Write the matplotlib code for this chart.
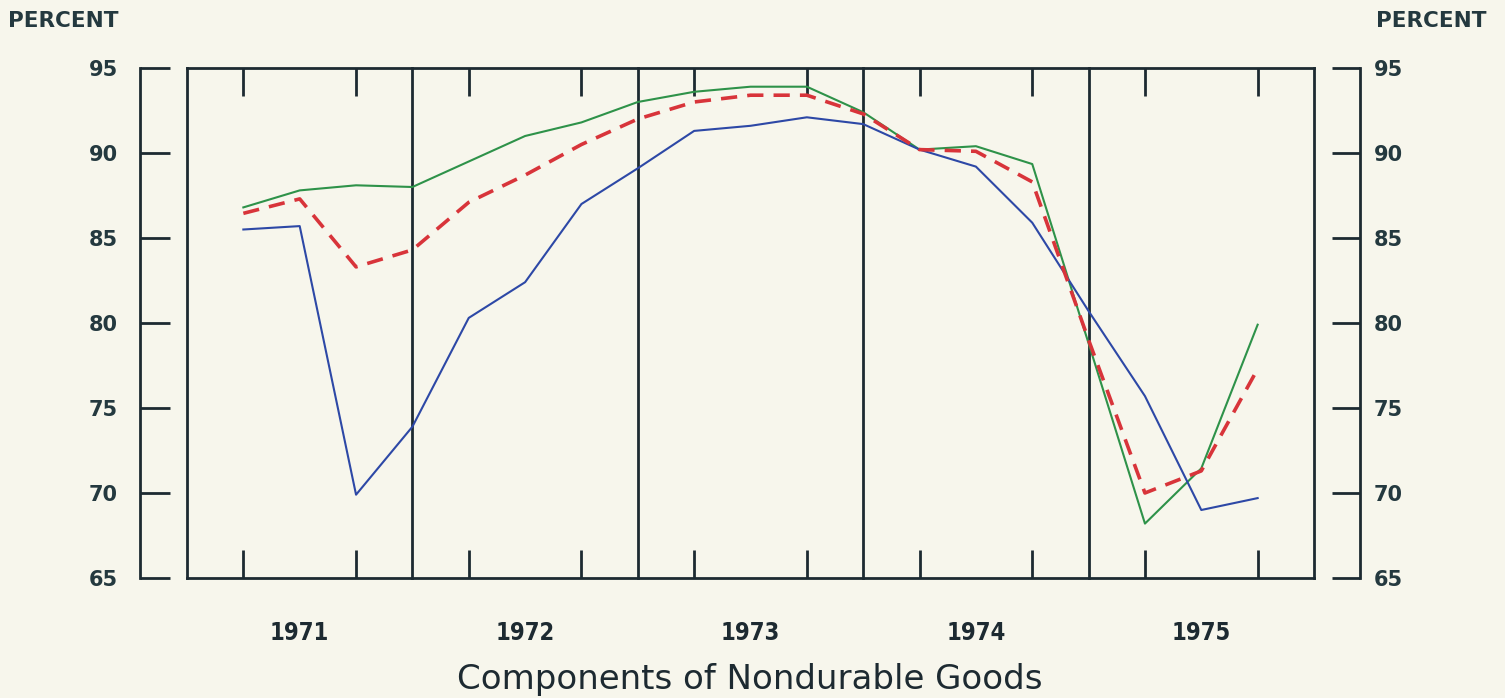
import numpy as np
import matplotlib.pyplot as plt

##########
### Data (quarterly, plotted on the quarter ticks)
quarters = list(range(1, 20))
blue_vals = [85.5, 85.7, 69.9, 73.9, 80.3, 82.4, 87.0, 89.1, 91.3, 91.6,
             92.1, 91.7, 90.2, 89.2, 85.9, 80.7, 75.7, 69.0, 69.7]
green_vals = [86.8, 87.8, 88.1, 88.0, 89.5, 91.0, 91.8, 93.0, 93.6, 93.9,
              93.9, 92.4, 90.2, 90.4, 89.35, 78.8, 68.2, 71.45, 79.9]
red_vals = [86.45, 87.3, 83.3, 84.3, 87.1, 88.7, 90.5, 92.0, 93.0, 93.4,
            93.4, 92.3, 90.2, 90.1, 88.3, 79.0, 70.0, 71.3, 77.3]
years = ['1971', '1972', '1973', '1974', '1975']
year_centers = [2, 6, 10, 14, 18]
year_bounds = [4, 8, 12, 16]
yticks = [65, 70, 75, 80, 85, 90, 95]
##########

bg = '#f7f6ec'
ink = '#1d2a31'
px = 0.72  # points per pixel at dpi 100

fig = plt.figure(figsize=(15.05, 6.98), dpi=100, facecolor=bg)
ax = fig.add_axes([187/1505, 120/698, 1127/1505, 510/698])
ax.set_facecolor(bg)
ax.set_xlim(0, 20)
ax.set_ylim(65, 95)

ax.plot(quarters, green_vals, color='#2e9249', lw=1.5, zorder=3)
ax.plot(quarters, blue_vals, color='#2d48a6', lw=1.5, zorder=3)
ax.plot(quarters, red_vals, color='#d8343a', lw=2.6, dashes=(4.5, 2.8), zorder=4)

# box and year dividers
for x in [0, 20] + year_bounds:
    ax.axvline(x, color=ink, lw=2.0, zorder=2, clip_on=False)
for side in ['top', 'bottom']:
    ax.spines[side].set_color(ink)
    ax.spines[side].set_linewidth(2.0)

# quarter ticks on top and bottom
ax.set_xticks([q for q in quarters if q not in year_bounds], minor=True)
ax.set_xticks(year_centers)
ax.set_xticklabels(years, fontsize=17, fontweight='bold', fontstretch='condensed',
                   color=ink)
ax.tick_params(axis='x', which='minor', direction='in', length=28*px, width=2.0,
               color=ink, top=True, bottom=True)
ax.tick_params(axis='x', which='major', length=0, pad=43*px)

# detached left axis
ax.spines['left'].set_position(('outward', 47*px))
ax.spines['left'].set_color(ink)
ax.spines['left'].set_linewidth(2.0)
ax.set_yticks(yticks)
ax.tick_params(axis='y', direction='in', length=30*px, width=2.0, color=ink,
               labelsize=15, labelcolor='#24393f', pad=22*px)
for lab in ax.get_yticklabels():
    lab.set_fontweight('bold')

# detached right axis
ax2 = ax.twinx()
ax2.set_ylim(65, 95)
ax2.set_yticks(yticks)
for side in ['top', 'bottom', 'left']:
    ax2.spines[side].set_visible(False)
ax.spines['right'].set_visible(False)
ax2.spines['right'].set_position(('outward', 46*px))
ax2.spines['right'].set_color(ink)
ax2.spines['right'].set_linewidth(2.0)
ax2.tick_params(axis='y', direction='in', length=28*px, width=2.0, color=ink,
                labelsize=15, labelcolor='#24393f', pad=14*px)
for lab in ax2.get_yticklabels():
    lab.set_fontweight('bold')

fig.text(8/1505, 1 - 21/698, 'PERCENT', ha='left', va='center', fontsize=15.5,
         fontweight='bold', color='#24393f')
fig.text(1486/1505, 1 - 21/698, 'PERCENT', ha='right', va='center', fontsize=15.5,
         fontweight='bold', color='#24393f')

fig.text(750/1505, 1 - 679/698, 'Components of Nondurable Goods', ha='center',
         va='center', fontsize=24.5, color=ink)

fig.savefig('out.png', dpi=100, facecolor=bg)
